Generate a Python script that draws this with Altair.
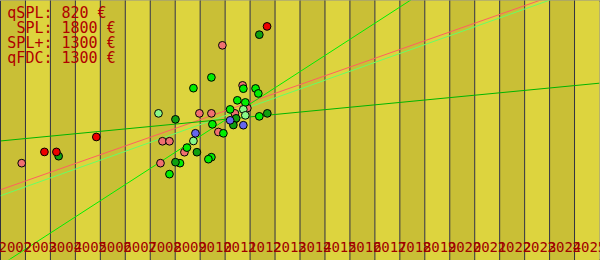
import altair as alt
import pandas as pd

# ---- data ----
years = list(range(2002, 2026))

red_x = [2003.76, 2004.24, 2005.84, 2012.68]
red_y = [1080, 1080, 1230, 2340]

salmon_x = [2002.85, 2010.89, 2008.49, 2008.77, 2009.97, 2010.45, 2011.70, 2011.89, 2011.39, 2010.73, 2009.37, 2008.41]
salmon_y = [967, 2150, 1187, 1187, 1467, 1467, 1748, 1520, 1467, 1280, 1077, 967]

green_x = [2010.45, 2009.73, 2011.73, 2012.22, 2012.33, 2011.49, 2011.81, 2011.20, 2012.37, 2011.33, 2010.49, 2010.93, 2009.47, 2010.45, 2010.33, 2009.19, 2008.77]
green_y = [1828, 1720, 1715, 1717, 1667, 1598, 1577, 1507, 1437, 1383, 1357, 1267, 1123, 1027, 1007, 967, 857]

dkgreen_x = [2004.33, 2012.37, 2009.01, 2012.69, 2011.44, 2011.33, 2009.87, 2009.01]
dkgreen_y = [1037, 2257, 1407, 1467, 1417, 1350, 1077, 977]

ltgreen_x = [2008.33, 2011.73, 2011.81, 2009.73]
ltgreen_y = [1467, 1507, 1447, 1190]

blue_x = [2009.81, 2011.20, 2011.73]
blue_y = [1267, 1397, 1348]

# trend lines: value at 2002 and at 2026
trend_names = ["salmon", "ltgreen", "green", "dkgreen"]
trend_start = [700, 640, -58, 1190]
trend_end = [2812, 2782, 3830, 1770]
trend_colors = ["#ff6060", "#66ff66", "#00ee00", "#00b400"]

legend_names = ["qSPL:", "SPL:", "SPL+:", "qFDC:"]
legend_values = ["820 €", "1800 €", "1300 €", "1300 €"]

point_colors = {
    "salmon": "#f07070",
    "green": "#00ee00",
    "dkgreen": "#10a010",
    "ltgreen": "#88f888",
    "blue": "#6666ee",
    "red": "#ee0000",
}

# ---- tables ----
bands = pd.DataFrame({
    "year": years,
    "year_end": [y + 1 for y in years],
    "fill": ["#c9bf36" if (y - 2002) % 2 == 0 else "#ddd43e" for y in years],
    "label": [str(y) for y in years],
})

rows = []
for name, xs_, ys_ in [("salmon", salmon_x, salmon_y), ("green", green_x, green_y),
                       ("dkgreen", dkgreen_x, dkgreen_y), ("ltgreen", ltgreen_x, ltgreen_y),
                       ("blue", blue_x, blue_y), ("red", red_x, red_y)]:
    for x, y in zip(xs_, ys_):
        rows.append({"series": name, "year": x, "value": y, "color": point_colors[name]})
points = pd.DataFrame(rows)

trows = []
for n, s, e, c in zip(trend_names, trend_start, trend_end, trend_colors):
    trows.append({"series": n, "year": 2002, "value": s, "color": c})
    trows.append({"series": n, "year": 2026, "value": e, "color": c})
trends = pd.DataFrame(trows)

legend = pd.DataFrame({"name": legend_names, "val": legend_values,
                       "row": list(range(len(legend_names)))})

xs = alt.Scale(domain=[2002, 2026], nice=False, zero=False)
ys = alt.Scale(domain=[0, 2600], nice=False, zero=False)
rows_scale = alt.Scale(domain=[0, 1], range=[17, 32])

band_layer = alt.Chart(bands).mark_rect().encode(
    x=alt.X("year:Q", scale=xs, axis=None),
    x2="year_end:Q",
    y=alt.value(0), y2=alt.value(260),
    fill=alt.Fill("fill:N", scale=None),
)

rule_layer = alt.Chart(bands).mark_rule(color="#303040", strokeWidth=1).encode(
    x=alt.X("year:Q", scale=xs, axis=None),
    y=alt.value(0), y2=alt.value(260),
)

trend_layer = alt.Chart(trends).mark_line(clip=True, strokeWidth=1).encode(
    x=alt.X("year:Q", scale=xs, axis=None),
    y=alt.Y("value:Q", scale=ys, axis=None),
    color=alt.Color("color:N", scale=None),
    detail="series:N",
)

point_layer = alt.Chart(points).mark_circle(size=60, opacity=1, stroke="black", strokeWidth=1).encode(
    x=alt.X("year:Q", scale=xs, axis=None),
    y=alt.Y("value:Q", scale=ys, axis=None),
    color=alt.Color("color:N", scale=None),
)

label_layer = alt.Chart(bands).mark_text(
    align="left", baseline="alphabetic", font="DejaVu Sans Mono", fontSize=14, color="#a00000", dx=-2
).encode(
    x=alt.X("year:Q", scale=xs, axis=None),
    y=alt.value(251),
    text="label:N",
)

legend_name_layer = alt.Chart(legend).mark_text(
    align="right", baseline="alphabetic", font="DejaVu Sans Mono", fontSize=15, color="#b00000"
).encode(
    x=alt.value(52),
    y=alt.Y("row:Q", scale=rows_scale, axis=None),
    text="name:N",
)

legend_val_layer = alt.Chart(legend).mark_text(
    align="left", baseline="alphabetic", font="DejaVu Sans Mono", fontSize=15, color="#b00000"
).encode(
    x=alt.value(61),
    y=alt.Y("row:Q", scale=rows_scale, axis=None),
    text="val:N",
)

chart = alt.layer(band_layer, rule_layer, trend_layer, point_layer, label_layer,
                  legend_name_layer, legend_val_layer).resolve_scale(
    y="independent"
).properties(
    width=599, height=259,
    padding={"left": 0.5, "top": 0.5, "right": 0.5, "bottom": 0.5},
    autosize="none",
).configure_view(stroke="#202020", strokeWidth=1)

chart.save("out.html", embed_options={"renderer": "svg", "actions": False})
